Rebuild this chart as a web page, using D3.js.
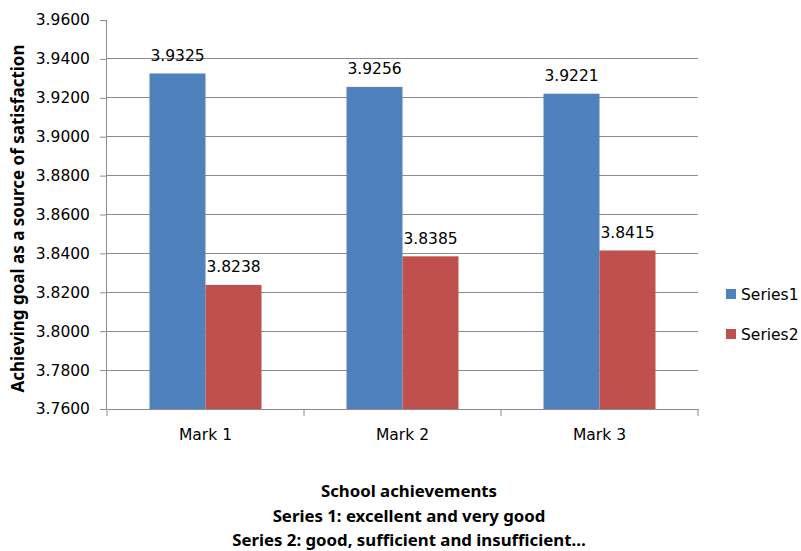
<!DOCTYPE html>
<html><head><meta charset="utf-8">
<script src="https://cdn.jsdelivr.net/npm/d3@7/dist/d3.min.js"></script>
<style>body{margin:0;background:#fff}svg{display:block}</style>
</head><body>
<svg id="c" width="801" height="551"></svg>
<script>
const categories = ["Mark 1", "Mark 2", "Mark 3"];
const seriesNames = ["Series1", "Series2"];
const series1 = [3.9325, 3.9256, 3.9221];
const series2 = [3.8238, 3.8385, 3.8415];
const yTicks = [3.76, 3.78, 3.80, 3.82, 3.84, 3.86, 3.88, 3.90, 3.92, 3.94, 3.96];
const colors = ["#4F81BD", "#C0504D"];
const xTitleLines = ["School achievements", "Series 1: excellent and very good", "Series 2: good, sufficient and insufficient…"];
const yTitle = "Achieving goal as a source of satisfaction";

const svg = d3.select("#c");
const L = 107, R = 698, T = 20, B = 409;
const x = d3.scaleBand().domain(categories).range([L, R]).paddingInner(0).paddingOuter(0);
const y = d3.scaleLinear().domain([3.76, 3.96]).range([B, T]);
const groupW = 112;
const xs = d3.scaleBand().domain(seriesNames).range([0, groupW]);
const tickFont = "DejaVu Sans, Verdana, sans-serif";
const fs = 15.5;

// gridlines
svg.append("g").selectAll("line").data(yTicks.filter(v => v > 3.761 && v < 3.959)).join("line")
  .attr("x1", L).attr("x2", R).attr("y1", d => y(d)).attr("y2", d => y(d))
  .attr("stroke", "#8c8c8c").attr("stroke-width", 1).attr("shape-rendering", "crispEdges");

// bars
const data = categories.map((c, i) => ({c, vals: [series1[i], series2[i]]}));
const g = svg.append("g").selectAll("g").data(data).join("g")
  .attr("transform", d => `translate(${x(d.c) + (x.bandwidth() - groupW) / 2},0)`);
g.selectAll("rect").data(d => d.vals.map((v, j) => ({v, s: seriesNames[j], j}))).join("rect")
  .attr("x", d => xs(d.s)).attr("width", xs.bandwidth())
  .attr("y", d => y(d.v)).attr("height", d => B - y(d.v))
  .attr("fill", d => colors[d.j]);
g.selectAll("text").data(d => d.vals.map((v, j) => ({v, s: seriesNames[j], j}))).join("text")
  .attr("x", d => xs(d.s) + xs.bandwidth() / 2).attr("y", d => y(d.v) - 12.5)
  .attr("text-anchor", "middle").attr("font-family", tickFont).attr("font-size", fs)
  .attr("fill", "#000").text(d => d.v.toFixed(4));

// y axis
const ya = svg.append("g").attr("transform", `translate(${L},0)`)
  .call(d3.axisLeft(y).tickValues(yTicks).tickFormat(d3.format(".4f")).tickSize(7).tickPadding(10));
ya.select(".domain").attr("stroke", "#8c8c8c").attr("d", `M-0.5,${T}V${B}`);
ya.selectAll(".tick line").attr("stroke", "#8c8c8c");
ya.selectAll("text").attr("font-family", tickFont).attr("font-size", fs).attr("fill", "#000").attr("x", -17);

// x axis
const xa = svg.append("g").attr("transform", `translate(0,${B})`)
  .call(d3.axisBottom(x).tickSize(0).tickPadding(20));
xa.select(".domain").attr("stroke", "#8c8c8c");
xa.selectAll("text").attr("font-family", tickFont).attr("font-size", fs).attr("fill", "#000");
xa.selectAll(".sep").data(d3.range(categories.length + 1)).join("line").attr("class", "sep")
  .attr("x1", i => L + i * x.step()).attr("x2", i => L + i * x.step())
  .attr("y1", 0).attr("y2", 7).attr("stroke", "#8c8c8c");

// y title
svg.append("text").attr("transform", `translate(24,${(T + B) / 2 + 4}) rotate(-90)`)
  .attr("text-anchor", "middle").attr("font-family", "Noto Sans, sans-serif").attr("font-weight", "bold")
  .attr("font-size", 17).text(yTitle);

// x title
svg.append("g").selectAll("text").data(xTitleLines).join("text")
  .attr("x", 409).attr("y", (d, i) => 497 + i * 24.5).attr("text-anchor", "middle")
  .attr("font-family", "Noto Sans, sans-serif").attr("font-weight", "bold").attr("font-size", 16.8)
  .text(d => d);

// legend
const lg = svg.append("g").selectAll("g").data(seriesNames).join("g")
  .attr("transform", (d, i) => `translate(726,${294 + i * 40})`);
lg.append("rect").attr("x", 0).attr("y", -5).attr("width", 10).attr("height", 10).attr("fill", (d, i) => colors[i]);
lg.append("text").attr("x", 15).attr("y", 6).attr("font-family", tickFont).attr("font-size", fs).text(d => d);
</script>
</body></html>
